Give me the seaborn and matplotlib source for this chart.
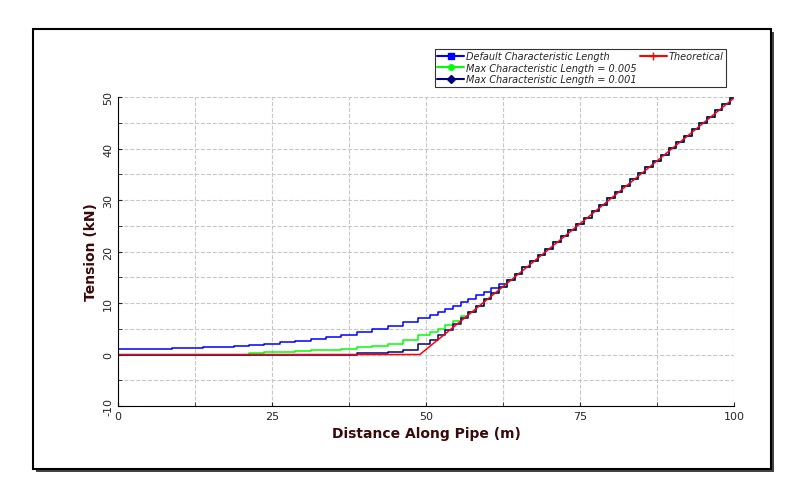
import numpy as np
import matplotlib
matplotlib.use("Agg")
import matplotlib.pyplot as plt
import seaborn as sns
from matplotlib.patches import Rectangle
from matplotlib.lines import Line2D

plt.rcParams['font.family'] = 'Liberation Sans'
plt.rcParams['axes.unicode_minus'] = False
sns.set_style('white')

# --- data ---
# head part sampled every 2.5 m, tail (on the theoretical line) every 1.25 m from 50 m
head_x = np.arange(0, 50, 2.5)
tail_x = np.arange(50, 100.01, 1.25)
tail_y = [1.0, 2.2, 3.4, 4.7, 5.9, 7.1, 8.3, 9.5, 10.7, 12.0, 13.2, 14.4, 15.6, 16.9,
          18.1, 19.3, 20.5, 21.8, 23.0, 24.2, 25.4, 26.6, 27.8, 29.1, 30.3, 31.5, 32.7,
          34.0, 35.2, 36.4, 37.6, 38.8, 40.1, 41.3, 42.5, 43.7, 45.0, 46.2, 47.4, 48.6, 49.8]
default_head = [1.0, 1.0, 1.1, 1.1, 1.2, 1.3, 1.4, 1.5, 1.7, 1.9, 2.1, 2.4, 2.7, 3.0,
                3.4, 3.8, 4.3, 4.9, 5.5, 6.3]
default_mid = [7.1, 7.6, 8.2, 8.8, 9.5, 10.1, 10.8, 11.5, 12.2, 12.9, 13.6, 14.5]  # 50..63.75
max_005_head = [0.0] * 9 + [0.3, 0.4, 0.5, 0.6, 0.8, 0.9, 1.1, 1.4, 1.7, 2.1, 2.8]
max_005_mid = [3.7, 4.3, 5.0, 5.8, 6.6, 7.5]  # 50..56.25
max_001_head = [0.0] * 16 + [0.2, 0.3, 0.5, 0.9]
max_001_mid = [2.0, 2.8, 3.8]  # 50..52.5
theory_x = [0, 49, 100]
theory_y = [0, 0, 49.8]


def series(head, mid):
    y = head + mid + tail_y[len(mid):]
    x = np.concatenate([head_x, tail_x])
    return x, y


fig = plt.figure(figsize=(7.88, 5.02), dpi=100)
fig.patches.append(Rectangle((36/788, 1-473/502), 738/788, 440/502, transform=fig.transFigure,
                             facecolor='#444444', edgecolor='none', zorder=0))
fig.patches.append(Rectangle((33/788, 1-470/502), 738/788, 440/502, transform=fig.transFigure,
                             facecolor='white', edgecolor='black', lw=1.5, zorder=1))
ax = fig.add_axes([118/788, 1-407/502, 616/788, 309/502])
ax.set_zorder(2)

x, y = series(default_head, default_mid)
sns.lineplot(x=x, y=y, drawstyle='steps-mid', color='#0000ff', lw=1.1, ax=ax)
x, y = series(max_005_head, max_005_mid)
sns.lineplot(x=x, y=y, drawstyle='steps-mid', color='#00ff00', lw=1.1, ax=ax)
x, y = series(max_001_head, max_001_mid)
sns.lineplot(x=x, y=y, drawstyle='steps-mid', color='#000080', lw=1.1, ax=ax)
sns.lineplot(x=theory_x, y=theory_y, color='#ff0000', lw=1.1, ax=ax)

ax.set_xlim(0, 100)
ax.set_ylim(-10, 50)
ax.set_xticks([0, 25, 50, 75, 100])
ax.set_xticks([12.5, 37.5, 62.5, 87.5], minor=True)
ax.set_yticks(range(-10, 51, 10))
ax.set_yticks(range(-5, 51, 10), minor=True)
ax.grid(True, which='both', ls='--', color='#c8c8c8', lw=0.8)
for s in ['top', 'right']:
    ax.spines[s].set_visible(False)
for s in ['left', 'bottom']:
    ax.spines[s].set_color('black')
    ax.spines[s].set_linewidth(0.8)
ax.tick_params(axis='both', which='both', direction='in', length=3, labelsize=8, left=True, bottom=True)
for lbl in ax.get_yticklabels():
    lbl.set_rotation(90)
    lbl.set_va('center')
ax.set_xlabel('Distance Along Pipe (m)', fontsize=10, fontweight='bold', color='#3a0a0a')
ax.set_ylabel('Tension (kN)', fontsize=10, fontweight='bold', color='#3a0a0a')

handles = [Line2D([], [], color='#0000ff', marker='s', ms=4),
           Line2D([], [], color='#00ff00', marker='o', ms=4),
           Line2D([], [], color='#000080', marker='D', ms=4),
           Line2D([], [], color='#ff0000', marker='+', ms=6),
           Line2D([], [], color='none'), Line2D([], [], color='none')]
labels = ['Default Characteristic Length', 'Max Characteristic Length = 0.005',
          'Max Characteristic Length = 0.001', 'Theoretical', '', '']
leg = fig.legend(handles, labels, ncol=2, loc='upper right',
                 bbox_to_anchor=(731/788, 1-45/502),
                 prop={'style': 'italic', 'size': 7}, frameon=True, fancybox=False,
                 edgecolor='black', handlelength=2.8, handletextpad=0.2, columnspacing=0.3,
                 labelspacing=0.15, borderpad=0.25)
leg.get_frame().set_linewidth(0.8)
leg.set_zorder(5)

fig.savefig('out.png', dpi=100)
